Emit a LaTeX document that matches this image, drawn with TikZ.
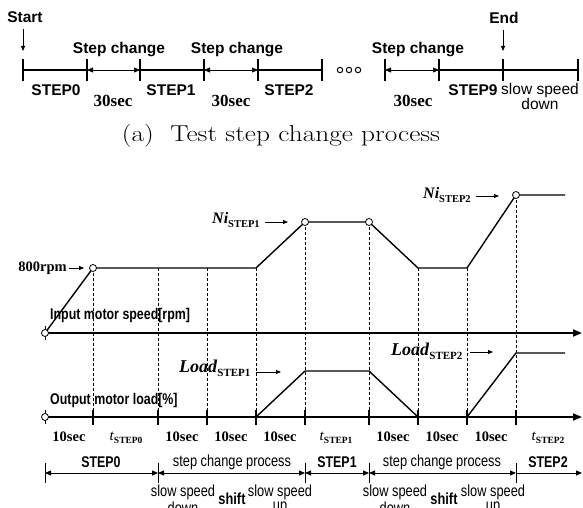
\documentclass[tikz,border=0pt]{standalone}
\usepackage{fontspec}
\usepackage{graphicx}
\usetikzlibrary{arrows.meta}
\newfontfamily\hsans{Liberation Sans}
\newfontfamily\csans[FakeStretch=0.8]{Liberation Sans}
\newfontfamily\tser{Liberation Serif}
\tikzset{
  tl/.style={inner sep=0pt, font=\hsans\bfseries\fontsize{15.5}{16}\selectfont},
  tlr/.style={inner sep=0pt, font=\hsans\fontsize{15.5}{16}\selectfont},
  sec/.style={inner sep=0pt, font=\tser\bfseries\fontsize{17}{17}\selectfont},
  bsec/.style={inner sep=0pt, font=\tser\bfseries\fontsize{14.5}{15}\selectfont},
  cb/.style={inner sep=0pt, font=\csans\bfseries\fontsize{15.5}{16}\selectfont},
  cr/.style={inner sep=0pt, font=\csans\fontsize{16}{16}\selectfont},
  mlab/.style={inner sep=0pt, font=\tser\fontsize{15}{15}\selectfont},
  heavy/.style={line width=2.2pt},
  tickln/.style={line width=2.4pt},
  thinarr/.style={line width=0.5pt, {Triangle[length=6pt,width=5pt]}-{Triangle[length=6pt,width=5pt]}},
  curve/.style={line width=1.4pt, line join=round},
  grid/.style={line width=0.6pt, dash pattern=on 3pt off 2pt},
  pt/.style={circle, draw, line width=0.8pt, fill=white, minimum size=7pt, inner sep=0pt},
  lab/.style={line width=0.8pt, -{Triangle[length=5pt,width=4pt]}},
  ax/.style={line width=1.8pt, -{Triangle[length=9pt,width=7pt]}},
}
\begin{document}
\begin{tikzpicture}[x=1pt,y=-1pt]
\useasboundingbox (0,0) rectangle (583,508);

% ---------- (a) top timeline ----------
\foreach \n/\x in {a0/23,a1/87,a2/140,a3/204,a4/258,a5/322,a6/385,a7/439,a8/503,a9/578}{
  \coordinate (\n) at (\x,70);
  \coordinate (\n t) at (\x,59);
  \coordinate (\n b) at (\x,81);
  \draw[tickln] (\n t) -- (\n b);
}
\draw[heavy] (a0) -- (a1);
\draw[thinarr] (a1) -- (a2);
\draw[heavy] (a2) -- (a3);
\draw[thinarr] (a3) -- (a4);
\draw[heavy] (a4) -- (a5);
\draw[thinarr] (a6) -- (a7);
\draw[heavy] (a7) -- (a8);
\draw[heavy] (a8) -- (a9);
\foreach \x in {340,349,358}{\draw[line width=1pt] (\x,70) circle (2.7pt);}

\node[tl] (start) at (25,17) {Start};
\coordinate (startarr) at (23,51);
\draw[lab] (23,29) -- (startarr);
\node[tl] (endl) at (504,18) {End};
\draw[lab] (503,30) -- (503,51);

\node[tl] (sc1) at (119,50) {Step change};
\node[tl] (sc2) at (237,50) {Step change};
\node[tl] (sc3) at (418,50) {Step change};

\node[tl] (s0) at (56,90) {STEP0};
\node[tl] (s1) at (171,90) {STEP1};
\node[tl] (s2) at (289,90) {STEP2};
\node[tl] (s9) at (473,90) {STEP9};
\node[tlr] (ssd) at (540,90) {slow speed};
\node[tlr] (ssd2) at (540,104) {down};
\node[sec] (t1) at (113,101) {30sec};
\node[sec] (t2) at (231,101) {30sec};
\node[sec] (t3) at (413,101) {30sec};

\node[inner sep=0pt, font=\fontsize{23}{24}\selectfont] (cap) at (281,136) {\scalebox{1.19}[1]{(a)\ \ Test step change process}};

% ---------- (b) plot ----------
\coordinate (v0) at (45,333);
\coordinate (v1) at (93,268);
\coordinate (v2) at (158,268);
\coordinate (v3) at (207,268);
\coordinate (v4) at (256,268);
\coordinate (v5) at (305,222);
\coordinate (v6) at (369,222);
\coordinate (v7) at (418,268);
\coordinate (v8) at (467,268);
\coordinate (v9) at (516,195);
\coordinate (v10) at (565,195);
\foreach \i/\x in {1/93,2/158,3/207,4/256,5/305,6/369,7/418,8/467,9/516}{
  \coordinate (g\i) at (\x,425);
  \draw[grid] (v\i) -- (g\i);
  \draw[line width=1.2pt] (\x,410) -- (\x,425);
}
\coordinate (ax1e) at (582,333);
\coordinate (ax2e) at (582,417);
\coordinate (l0) at (45,417);
\draw[ax] (v0) -- (ax1e);
\draw[ax] (l0) -- (ax2e);
\draw[line width=1pt] (45,326) -- (45,340);
\draw[line width=1pt] (45,410) -- (45,424);

\draw[curve] (v0) -- (v1) -- (v2) -- (v3) -- (v4) -- (v5) -- (v6) -- (v7) -- (v8) -- (v9) -- (v10);

\coordinate (w4) at (256,417);
\coordinate (w5) at (305,371);
\coordinate (w6) at (369,371);
\coordinate (w7) at (418,417);
\coordinate (w8) at (467,417);
\coordinate (w9) at (516,353);
\coordinate (w10) at (565,353);
\draw[curve] (l0) -- (w4) -- (w5) -- (w6) -- (w7) -- (w8) -- (w9) -- (w10);

\node[pt] (c0) at (v0) {};
\node[pt] (c1) at (v1) {};
\node[pt] (c5) at (v5) {};
\node[pt] (c6) at (v6) {};
\node[pt] (c9) at (v9) {};
\node[pt] (c10) at (l0) {};

\node[inner sep=0pt, anchor=east, font=\tser\bfseries\fontsize{14.5}{15}\selectfont] (rpm) at (67,268) {800rpm};
\draw[lab] ([xshift=2pt]rpm.east) -- ([xshift=-5pt]c1.west);

\node[inner sep=0pt, anchor=west, font=\tser\bfseries\fontsize{16}{16}\selectfont] (ni1) at (212,220) {\textit{Ni}\raisebox{-3.5pt}{\fontsize{10.5}{11}\selectfont STEP1}};
\coordinate (ni1e) at (288,222);
\draw[lab] ([xshift=5pt]ni1.east|-ni1e) -- (ni1e);
\node[inner sep=0pt, anchor=west, font=\tser\bfseries\fontsize{16}{16}\selectfont] (ni2) at (423,195) {\textit{Ni}\raisebox{-3.5pt}{\fontsize{10.5}{11}\selectfont STEP2}};
\coordinate (ni2e) at (499,196);
\draw[lab] ([xshift=5pt]ni2.east|-ni2e) -- (ni2e);

\node[inner sep=0pt, anchor=west, font=\tser\bfseries\fontsize{18}{18}\selectfont] (ld1) at (179,368) {\textit{Load}\raisebox{-4pt}{\fontsize{11}{11}\selectfont STEP1}};
\coordinate (ld1e) at (281,372);
\draw[lab] ([xshift=5pt]ld1.east|-ld1e) -- (ld1e);
\node[inner sep=0pt, anchor=west, font=\tser\bfseries\fontsize{18}{18}\selectfont] (ld2) at (391,351) {\textit{Load}\raisebox{-4pt}{\fontsize{11}{11}\selectfont STEP2}};
\coordinate (ld2e) at (493,352);
\draw[lab] ([xshift=7pt]ld2.east|-ld2e) -- (ld2e);

\node[cb, anchor=west] (inl) at (50,315) {Input motor speed[rpm]};
\node[cb, anchor=west] (outl) at (50,400) {Output motor load[\%]};

\foreach \x in {69,182,231,280,393,442,491}{\node[bsec] at (\x,437) {10sec};}
\node[mlab] (ts0) at (126,438) {\textit{t}\raisebox{-3pt}{\bfseries\fontsize{9.5}{10}\selectfont STEP0}};
\node[mlab] (ts1) at (336,438) {\textit{t}\raisebox{-3pt}{\bfseries\fontsize{9.5}{10}\selectfont STEP1}};
\node[mlab] (ts2) at (548,438) {\textit{t}\raisebox{-3pt}{\bfseries\fontsize{9.5}{10}\selectfont STEP2}};

\foreach \n/\x in {r0/45,r1/158,r2/305,r3/369,r4/516}{
  \coordinate (\n) at (\x,473);
  \draw[line width=0.8pt] (\x,463) -- (\x,483);
}
\coordinate (r5) at (582,473);
\tikzset{rarr/.style={line width=0.8pt, {Triangle[length=6pt,width=5pt]}-{Triangle[length=6pt,width=5pt]}}}
\draw[rarr] (r0) -- (r1);
\draw[rarr] (r1) -- (r2);
\draw[rarr] (r2) -- (r3);
\draw[rarr] (r3) -- (r4);
\draw[line width=0.8pt, -{Triangle[length=6pt,width=5pt]}] (r4) -- (r5);

\node[cb] (b0) at (101,462) {STEP0};
\node[cr] (b1) at (232,462) {step change process};
\node[cb] (b2) at (337,462) {STEP1};
\node[cr] (b3) at (442,462) {step change process};
\node[cb] (b4) at (548,462) {STEP2};

\foreach \x/\w/\n in {183/down/d1,280/up/u1,395/down/d2,493/up/u2}{
  \node[cr] (\n a) at (\x,492) {slow speed};
  \node[cr] (\n b) at (\x,508) {\w};
}
\node[cb, font=\csans\bfseries\fontsize{16}{16}\selectfont] (sh1) at (232,499) {shift};
\node[cb, font=\csans\bfseries\fontsize{16}{16}\selectfont] (sh2) at (444,499) {shift};
\end{tikzpicture}
\end{document}
